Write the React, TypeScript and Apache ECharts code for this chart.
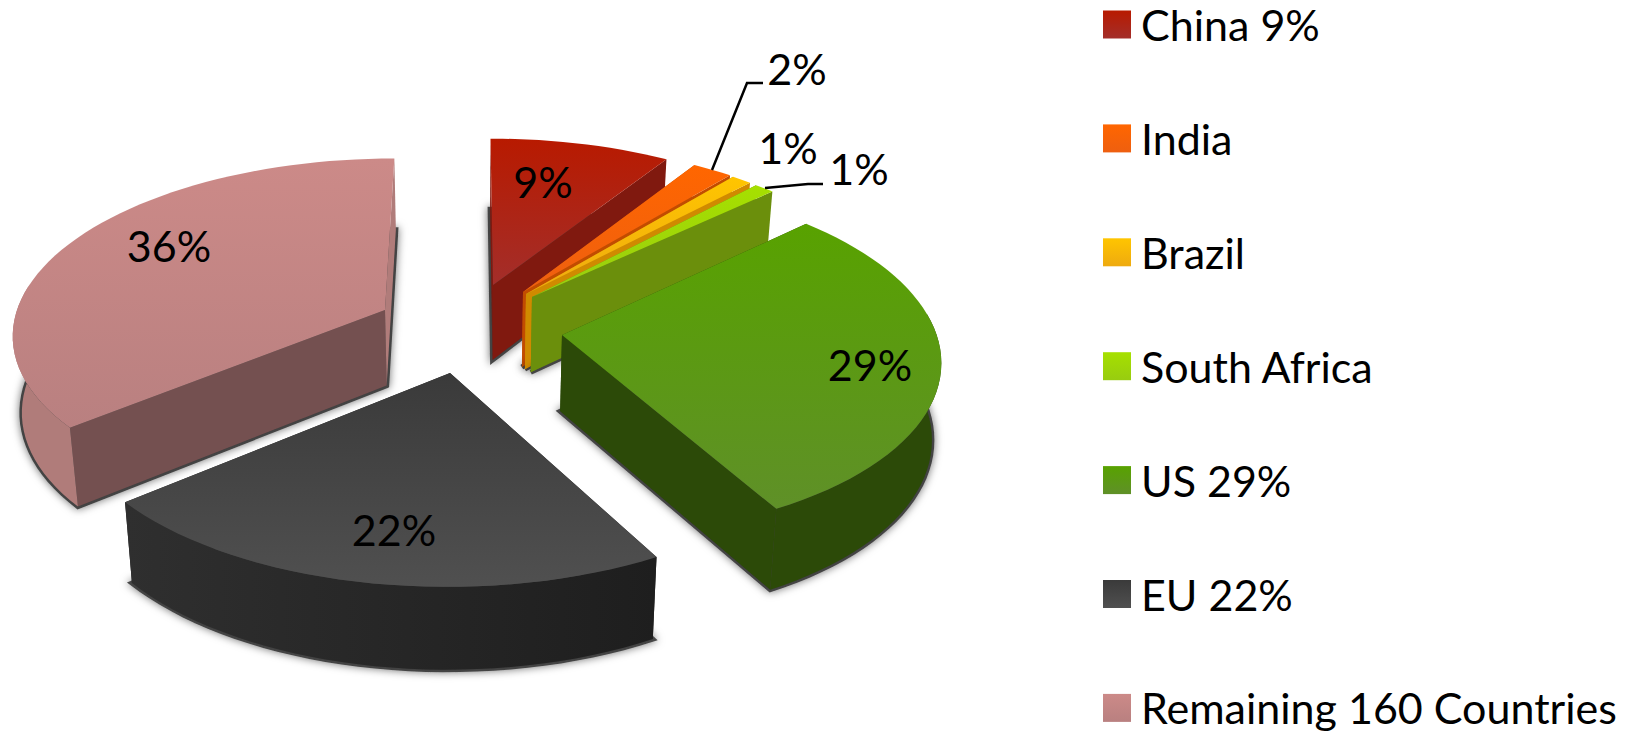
import React, { useEffect, useRef } from "react";
import * as echarts from "echarts";

// Shares of the total, clockwise from twelve o'clock.
const sliceNames = ["China 9%", "India", "Brazil", "South Africa", "US 29%", "EU 22%", "Remaining 160 Countries"];
const sliceShares = [9, 2, 1, 1, 29, 22, 36];

// Paint order: the slices nearest the viewer go last.
const paintOrder = [0, 1, 2, 3, 6, 4, 5];

const topStart = ["#b81a00", "#ff6600", "#ffc500", "#a6e000", "#58a200", "#3a3a3a", "#cc8a88"];
const topEnd = ["#a32e2a", "#ee5f10", "#eeaa10", "#98cc10", "#5f9028", "#505050", "#b98080"];
const wallColor = ["#80190f", "#c24c00", "#d08a00", "#6b8f0c", "#2c4a08", "#262626", "#745050"];
const rimStart = ["#80190f", "#c24c00", "#d08a00", "#7c9c0c", "#2c4a08", "#2f2f2f", "#b07c7a"];
const rimEnd = ["#80190f", "#c24c00", "#d08a00", "#7c9c0c", "#2c4a08", "#1e1e1e", "#b07c7a"];

// Screen position of each slice's point after the slices are pulled apart.
const sliceTips = [[493, 285], [523, 292], [526, 294], [532, 297], [562, 335], [450, 373], [385, 310]];
const labelCentres = [[543, 181], [797, 68], [788, 147], [859, 168], [870, 364], [394, 529], [169, 245]];
const leaderLines = [
  [[712, 170], [747, 83], [763, 83]],
  [[765, 188], [808, 184], [823, 184]],
];

const FONT = "Lato";
const LABEL_SIZE = 43;
const view = { vanishX: 470, horizonY: 325, radiusX: 372, radiusY: 174, persp: 0.125, depth: 76, taper: 0.98 };

type Pt = [number, number];

function makeProjector(tip: number[]) {
  const t = (view.horizonY - tip[1]) / view.radiusY;
  const wy = t / (1 - view.persp * t);
  const s0 = 1 / (1 + view.persp * wy);
  const wx = (tip[0] - view.vanishX) / s0;
  const place = (r: number, angle: number) => {
    const y = wy + r * Math.cos(angle);
    const x = wx + r * (view.radiusX * Math.sin(angle));
    const s = 1 / (1 + view.persp * y);
    return { x: view.vanishX + x * s, y: view.horizonY - view.radiusY * y * s, s };
  };
  return {
    top: (r: number, angle: number): Pt => {
      const p = place(r, angle);
      return [p.x, p.y];
    },
    bottom: (r: number, angle: number): Pt => {
      const p = place(r, angle);
      return [view.vanishX + (p.x - view.vanishX) * view.taper, p.y + view.depth * Math.sqrt(p.s)];
    },
  };
}

function vertical(from: string, to: string) {
  return new echarts.graphic.LinearGradient(0, 0, 0, 1, [
    { offset: 0, color: from },
    { offset: 1, color: to },
  ]);
}

function horizontal(from: string, to: string) {
  return new echarts.graphic.LinearGradient(0, 0, 1, 0, [
    { offset: 0, color: from },
    { offset: 1, color: to },
  ]);
}

function sliceRenderer(index: number) {
  return (_params: any, api: any) => {
    const total = sliceShares.reduce((a, b) => a + b, 0);
    const before = sliceShares.slice(0, index).reduce((a, b) => a + b, 0);
    const value = api.value(0);
    const a0 = (before / total) * Math.PI * 2;
    const a1 = ((before + value) / total) * Math.PI * 2;
    const proj = makeProjector(sliceTips[index]);

    const steps = Math.max(4, Math.ceil((a1 - a0) / 0.04));
    const angles: number[] = [];
    for (let i = 0; i <= steps; i++) angles.push(a0 + ((a1 - a0) * i) / steps);

    const topArc = angles.map((a) => proj.top(1, a));
    const bottomArc = angles.map((a) => proj.bottom(1, a));
    const tipTop = proj.top(0, 0);
    const tipBottom = proj.bottom(0, 0);

    const poly = (points: Pt[], style: any) => ({ type: "polygon", shape: { points }, style });
    // A cut face running straight back catches the same light as the rim.
    const faceColor = (a: number) => (Math.cos(a) > 0.98 ? rimStart[index] : wallColor[index]);

    const children: any[] = [
      // Soft contact shadow under the slice
      poly([tipBottom, ...bottomArc], {
        fill: "#383838",
        stroke: "#383838",
        lineWidth: 5,
        opacity: 0.9,
        shadowBlur: 8,
        shadowColor: "rgba(0,0,0,0.6)",
      }),
      poly([tipTop, topArc[0], bottomArc[0], tipBottom], { fill: faceColor(a0) }),
      poly([tipTop, topArc[steps], bottomArc[steps], tipBottom], { fill: faceColor(a1) }),
    ];

    // The outer rim shows only on the part of the arc that faces the viewer.
    const facing = angles.filter((a) => Math.cos(a) < 0.15);
    if (facing.length > 1) {
      const rimTop = facing.map((a) => proj.top(1, a));
      const rimBottom = facing.map((a) => proj.bottom(1, a)).reverse();
      children.push(poly([...rimTop, ...rimBottom], { fill: horizontal(rimStart[index], rimEnd[index]) }));
    }

    children.push(poly([tipTop, ...topArc], { fill: vertical(topStart[index], topEnd[index]) }));
    return { type: "group", children };
  };
}

function labelRenderer(index: number) {
  return (_params: any, api: any) => ({
    type: "text",
    style: {
      x: labelCentres[index][0],
      y: labelCentres[index][1],
      text: `${api.value(0)}%`,
      fill: "#000000",
      font: `${LABEL_SIZE}px ${FONT}`,
      align: "center",
      verticalAlign: "middle",
    },
  });
}

export default function App() {
  const host = useRef<HTMLDivElement>(null);

  useEffect(() => {
    document.body.style.margin = "0";
    document.body.style.background = "#ffffff";
    const chart = echarts.init(host.current!, undefined, { renderer: "svg" });

    const slices = paintOrder.map((i) => ({
      type: "custom",
      name: sliceNames[i],
      coordinateSystem: "none",
      silent: true,
      z: 2,
      itemStyle: { color: topStart[i] },
      data: [[sliceShares[i]]],
      renderItem: sliceRenderer(i),
    }));
    const labels = sliceShares.map((share, i) => ({
      type: "custom",
      coordinateSystem: "none",
      silent: true,
      z: 4,
      data: [[share]],
      renderItem: labelRenderer(i),
    }));

    chart.setOption({
      animation: false,
      backgroundColor: "#ffffff",
      legend: {
        orient: "vertical",
        left: 1103,
        top: 3,
        height: 900,
        padding: 0,
        itemWidth: 28,
        itemHeight: 28,
        itemGap: 70.9,
        icon: "rect",
        selectedMode: false,
        textStyle: { fontFamily: FONT, fontSize: 43, color: "#000000", lineHeight: 28, padding: [14, 0, 0, 5] },
        data: sliceNames.map((name, i) => ({
          name,
          itemStyle: { color: vertical(topStart[i], topEnd[i]) },
        })),
      },
      graphic: leaderLines.map((points) => ({
        type: "polyline",
        z: 5,
        shape: { points },
        style: { stroke: "#000000", lineWidth: 2.5, fill: "none" },
      })),
      series: [...slices, ...labels],
    });
    return () => chart.dispose();
  }, []);

  return <div ref={host} style={{ position: "fixed", left: 0, top: 0, width: 1648, height: 736 }} />;
}
